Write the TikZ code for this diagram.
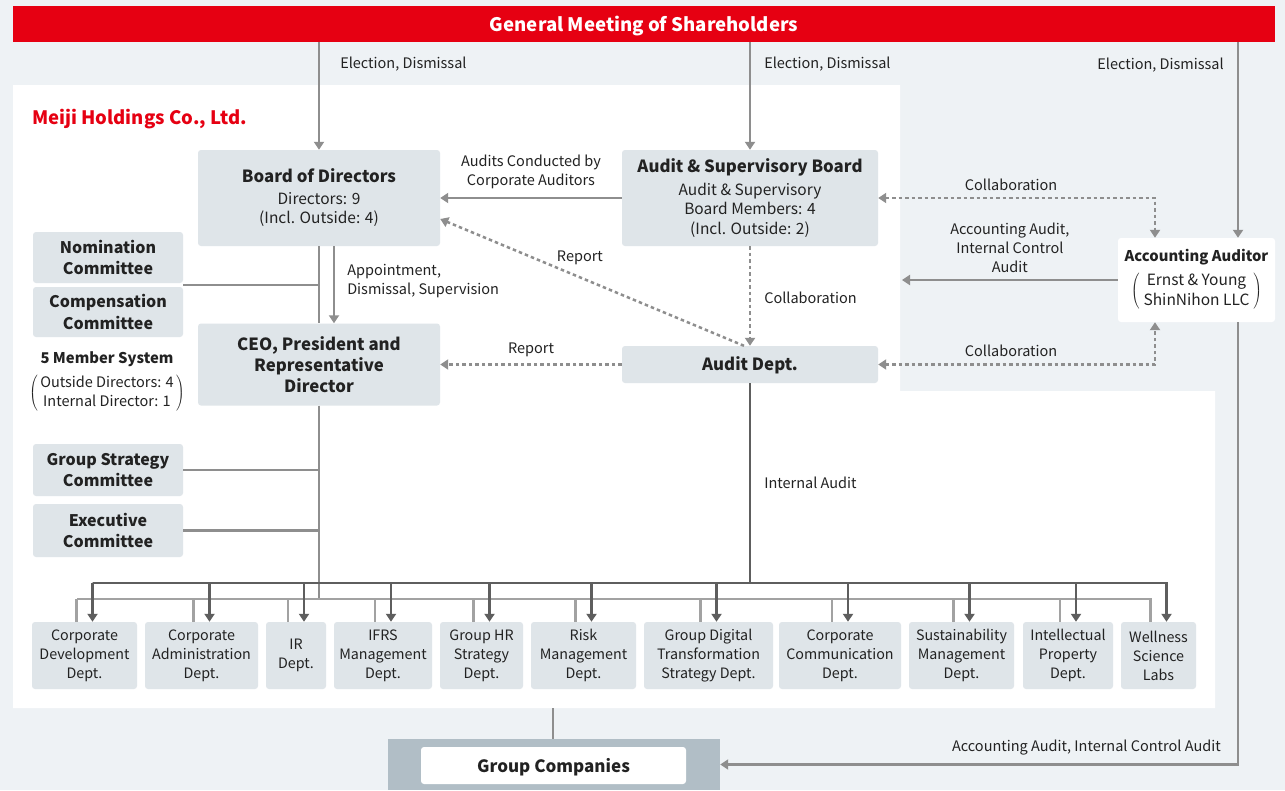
\documentclass[tikz,border=0pt]{standalone}
\usepackage{fontspec}
\setmainfont{Noto Sans CJK JP}
\usetikzlibrary{arrows.meta}

\definecolor{meijired}{HTML}{E60012}
\definecolor{pagebg}{HTML}{EEF2F5}
\definecolor{boxfill}{HTML}{DFE5E9}
\definecolor{linegray}{HTML}{8E8E8E}
\definecolor{busdark}{HTML}{5E5E5E}
\definecolor{buslight}{HTML}{A2A2A2}
\definecolor{groupgray}{HTML}{B1BEC6}
\definecolor{ink}{HTML}{222222}

\newcommand\boxhead{\fontsize{16.8}{21}\selectfont\bfseries}
\newcommand\boxtext{\fontsize{15.5}{19.5}\selectfont}

\tikzset{
  unit/.style={fill=boxfill, rounded corners=3pt, inner sep=0pt, align=center, text=ink},
  dept/.style={unit, minimum height=67pt, font=\fontsize{14.3}{19}\selectfont},
  cmte/.style={unit, minimum width=150pt, font=\fontsize{16}{21.5}\selectfont\bfseries},
  lbl/.style={font=\fontsize{14.5}{19}\selectfont, text=ink, inner sep=0pt, align=center, yshift=-1.5pt},
  conn/.style={draw=linegray, line width=2.5pt},
  dots/.style={conn, dash pattern=on 3.5pt off 3pt},
  busd/.style={draw=busdark, line width=2.5pt},
  busl/.style={draw=buslight, line width=2.5pt},
}

\begin{document}
\begin{tikzpicture}[x=1pt, y=-1pt, >={Triangle[width=10pt,length=8pt]}]
% page and company area
\fill[pagebg] (0,0) rectangle (1285,790);
\fill[white] (13,85) -- (900,85) -- (900,391) -- (1215,391) -- (1215,708) -- (13,708) -- cycle;

\node[fill=meijired, minimum width=1262pt, minimum height=36pt, inner sep=0pt] (gms) at (644,24) {};
\node[inner sep=0pt, text=white, font=\fontsize{18.6}{23}\selectfont\bfseries] (gmstext) at (644,25.5) {General Meeting of Shareholders};
\node[anchor=west, inner sep=0pt, text=meijired, font=\fontsize{18.5}{23}\selectfont\bfseries] (co) at (32,119) {Meiji Holdings Co., Ltd.};

% boards and auditors
\node[unit, minimum width=242pt, minimum height=96pt, font=\boxtext] (bod) at (319,198) {{\boxhead Board of Directors}\\[2pt]Directors: 9\\(Incl. Outside: 4)};
\node[unit, minimum width=256pt, minimum height=96pt, font=\boxtext] (asb) at (750,198) {{\boxhead Audit \& Supervisory Board}\\[3pt]Audit \& Supervisory\\Board Members: 4\\(Incl. Outside: 2)};
\node[unit, minimum width=256pt, minimum height=37pt, font=\boxhead, text depth=1pt] (audit) at (750,364.5) {Audit Dept.};
\node[unit, minimum width=242pt, minimum height=82pt, font=\boxhead] (ceo) at (319,364.5) {CEO, President and\\Representative\\Director};
\node[unit, fill=white, minimum width=157pt, minimum height=84pt, font=\boxtext] (acct) at (1196.5,280) {{\fontsize{14.8}{19}\selectfont\bfseries Accounting Auditor}\\[6pt]$\left(\;\begin{tabular}{@{}c@{}}Ernst \& Young\\ShinNihon LLC\end{tabular}\;\right)$};

% committees
\node[cmte, minimum height=51pt] (nom) at (108,257.5) {Nomination\\Committee};
\node[cmte, minimum height=50pt] (comp) at (108,312) {Compensation\\Committee};
\node[lbl, font=\fontsize{14.8}{19}\selectfont\bfseries] (fivesys) at (107,358) {5 Member System};
\node[lbl] (fivemem) at (107,391.5) {$\left(\,\begin{tabular}{@{}c@{}}Outside Directors: 4\\Internal Director: 1\end{tabular}\,\right)$};
\node[cmte, minimum height=52pt] (gsc) at (108,470) {Group Strategy\\Committee};
\node[cmte, minimum height=53pt] (exe) at (108,530.5) {Executive\\Committee};

% departments
\node[dept, minimum width=105pt] (d1) at (84.5,655.5) {Corporate\\Development\\Dept.};
\node[dept, minimum width=113pt] (d2) at (201.5,655.5) {Corporate\\Administration\\Dept.};
\node[dept, minimum width=60pt] (d3) at (296,655.5) {IR\\Dept.};
\node[dept, minimum width=98pt] (d4) at (383,655.5) {IFRS\\Management\\Dept.};
\node[dept, minimum width=83pt] (d5) at (481.5,655.5) {Group HR\\Strategy\\Dept.};
\node[dept, minimum width=105pt] (d6) at (583.5,655.5) {Risk\\Management\\Dept.};
\node[dept, minimum width=129pt] (d7) at (708.5,655.5) {Group Digital\\Transformation\\Strategy Dept.};
\node[dept, minimum width=122pt] (d8) at (840,655.5) {Corporate\\Communication\\Dept.};
\node[dept, minimum width=105pt] (d9) at (961.5,655.5) {Sustainability\\Management\\Dept.};
\node[dept, minimum width=90pt] (d10) at (1068,655.5) {Intellectual\\Property\\Dept.};
\node[dept, minimum width=75pt] (d11) at (1158.5,655.5) {Wellness\\Science\\Labs};

% group companies
\node[fill=groupgray, minimum width=332pt, minimum height=51pt, inner sep=0pt] (grp) at (554,764.5) {};
\node[fill=white, rounded corners=3pt, minimum width=265pt, minimum height=37pt, inner sep=0pt, text=ink, font=\fontsize{17}{21}\selectfont\bfseries, text depth=1pt] (grpname) at (553.5,765.5) {Group Companies};

\coordinate (acTop) at ([xshift=41.5pt]acct.north);
\coordinate (acTopL) at ([xshift=-41.5pt]acct.north);
\coordinate (acBot) at ([xshift=41.5pt]acct.south);
\coordinate (acBotL) at ([xshift=-41.5pt]acct.south);
\coordinate (hdEdge) at (902,280);
\coordinate (ncTie) at (183,285);
\coordinate (lbus) at (76.5,599);
\coordinate (dbus) at (92.5,583);
\coordinate (coBase) at (553,708);

% elections
\draw[conn,->] (gms.south -| bod.north) -- node[lbl, right=20pt, pos=0.19] {Election, Dismissal} (bod.north);
\draw[conn,->] (gms.south -| asb.north) -- node[lbl, right=13pt, pos=0.19] {Election, Dismissal} (asb.north);
\draw[conn,->] (gms.south -| acTop) -- node[lbl, left=13pt, pos=0.107] {Election, Dismissal} (acTop);

% audits and reporting
\draw[conn,->] (asb.west) -- node[lbl, above=9pt] {Audits Conducted by\\Corporate Auditors} (bod.east);
\draw[dots,->] ([xshift=-6pt]audit.north) -- node[lbl, pos=0.54, above=13pt] {Report} ([yshift=-21pt]bod.east);
\draw[dots,->] (asb.south) -- node[lbl, right=13pt] {Collaboration} (audit.north);
\draw[dots,<->] (asb.east) -| node[lbl, pos=0.24, above=8pt] {Collaboration} (acTopL);
\draw[conn,->] (acct.west) -- node[lbl, above=8pt] {Accounting Audit,\\Internal Control\\Audit} (hdEdge);
\draw[dots,<->] (audit.east) -| node[lbl, pos=0.24, above=8pt] {Collaboration} (acBotL);
\draw[dots,->] (audit.west) -- node[lbl, above=8pt] {Report} (ceo.east);

% board to ceo
\draw[conn] (bod.south) -- (ceo.north);
\draw[conn,->] ([xshift=15pt]bod.south) -- node[lbl, right=12pt, align=left, pos=0.43] {Appointment,\\Dismissal, Supervision} ([xshift=15pt]ceo.north);
\draw[conn] (ncTie) -- (ncTie -| bod.south);
\draw[conn] (gsc.east) -- (gsc.east -| bod.south);
\draw[conn] (exe.east) -- (exe.east -| bod.south);

% department buses
\draw[conn] (ceo.south) -- (ceo.south |- lbus);
\foreach \i in {1,...,11}
  \draw[busl] ([xshift=-8pt]d\i.north) |- (lbus);
\draw[busd] (audit.south) -- node[lbl, right=13pt, pos=0.49] {Internal Audit} (audit.south |- dbus);
\foreach \i in {1,...,11}
  \draw[busd,->] (dbus) -| ([xshift=8pt]d\i.north);

% group companies links
\draw[conn] (coBase) -- (coBase |- grp.north);
\draw[conn,->] (acBot) |- node[lbl, pos=0.5, anchor=south east, xshift=-16pt, yshift=10pt] {Accounting Audit, Internal Control Audit} (grp.east);
\end{tikzpicture}
\end{document}
